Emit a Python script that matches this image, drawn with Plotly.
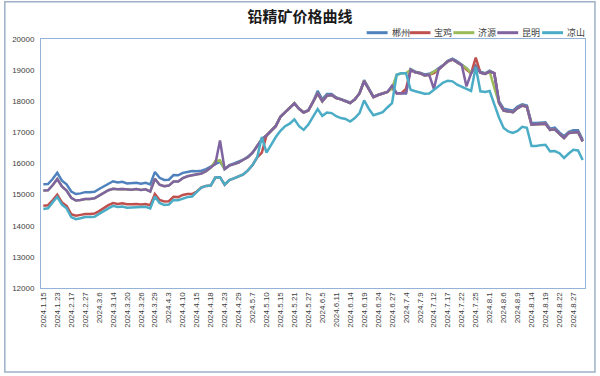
import plotly.graph_objects as go

tick_labels = ["2024.1.15","2024.1.23","2024.2.17","2024.2.27","2024.3.6","2024.3.14","2024.3.20",
               "2024.3.26","2024.3.29","2024.4.3","2024.4.10","2024.4.15","2024.4.18","2024.4.23",
               "2024.4.29","2024.5.7","2024.5.10","2024.5.15","2024.5.21","2024.5.27","2024.6.5",
               "2024.6.11","2024.6.14","2024.6.19","2024.6.24","2024.6.27","2024.7.4","2024.7.9",
               "2024.7.12","2024.7.17","2024.7.22","2024.7.25","2024.8.1","2024.8.6","2024.8.9",
               "2024.8.14","2024.8.19","2024.8.22","2024.8.27"]

y_ticks = [12000, 13000, 14000, 15000, 16000, 17000, 18000, 19000, 20000]

chenzhou = [15330,15340,15500,15700,15450,15330,15100,15020,15040,15080,
            15080,15090,15180,15260,15350,15430,15390,15410,15360,15360,
            15380,15350,15380,15330,15730,15540,15470,15480,15630,15620,
            15700,15730,15760,15750,15770,15820,15900,16000,16060,15820,
            15950,16000,16050,16120,16220,16350,16550,16780,16900,17060,
            17220,17500,17650,17780,17930,17760,17640,17720,17980,18330,
            18060,18230,18230,18120,18060,18010,17960,18060,18260,18680,
            18400,18150,18200,18260,18300,18450,18260,18260,18260,19030,
            18950,18920,18860,18880,18950,19060,19160,19300,19370,19280,
            19180,19060,18900,19150,18950,18900,18980,18900,18000,17760,
            17730,17700,17830,17900,17860,17300,17300,17320,17320,17120,
            17150,17000,16880,17020,17070,17070,16760]

baoji = [14640,14660,14820,15000,14750,14640,14370,14320,14350,14380,
         14380,14390,14470,14580,14660,14730,14700,14720,14690,14690,
         14700,14680,14700,14660,15020,14830,14780,14790,14930,14920,
         14990,15020,15020,15100,15230,15280,15290,15550,15560,15320,
         15470,15520,15580,15650,15780,15950,16200,16350,16900,17050,
         17200,17500,17640,17780,17930,17760,17640,17700,17980,18250,
         18000,18180,18200,18100,18060,18000,17940,18060,18250,18650,
         18400,18130,18200,18260,18300,18420,18260,18260,18400,19010,
         18930,18900,18830,18850,18900,19020,19140,19280,19340,19260,
         19160,19020,18900,19400,18920,18880,18950,18900,17950,17700,
         17680,17650,17780,17860,17820,17250,17260,17280,17280,17080,
         17100,16950,16820,16980,17000,17010,16710]

jiyuan = [15130,15140,15300,15500,15260,15130,14900,14810,14830,14860,
          14860,14880,14970,15060,15140,15190,15170,15180,15160,15160,
          15180,15150,15170,15100,15510,15320,15270,15290,15420,15420,
          15530,15590,15620,15640,15680,15750,15860,16080,16100,15820,
          15930,15980,16030,16120,16200,16350,16550,16780,16900,17050,
          17200,17500,17640,17780,17930,17760,17640,17700,17980,18250,
          18000,18180,18200,18100,18060,18000,17940,18060,18250,18650,
          18400,18130,18200,18260,18300,18420,18850,18900,18900,19010,
          18930,18900,18830,18850,18950,19020,19140,19280,19340,19260,
          19160,19060,18900,19120,18920,18880,18950,18430,17950,17700,
          17680,17650,17780,17860,17820,17250,17260,17280,17280,17080,
          17100,16950,16820,16980,17000,17010,16710]

kunming = [15130,15140,15300,15500,15260,15130,14900,14810,14830,14860,
           14860,14880,14970,15060,15140,15190,15170,15180,15160,15160,
           15180,15150,15170,15100,15510,15320,15270,15290,15420,15420,
           15530,15590,15620,15640,15680,15750,15860,15990,16740,15820,
           15930,15980,16030,16120,16200,16350,16550,16780,16900,17050,
           17200,17500,17640,17780,17930,17760,17640,17700,17980,18250,
           18000,18180,18200,18100,18060,18000,17940,18060,18250,18650,
           18400,18130,18200,18260,18300,18500,18260,18260,18260,19010,
           18930,18900,18830,18850,18400,19020,19140,19280,19340,19260,
           19160,18480,18900,19120,18920,18880,18950,18900,17950,17700,
           17680,17650,17780,17860,17820,17250,17260,17280,17280,17080,
           17100,16950,16820,16980,17000,17010,16710]

liangshan = [14540,14560,14750,14930,14680,14560,14280,14210,14240,14280,
             14280,14290,14380,14480,14560,14640,14600,14620,14580,14590,
             14600,14590,14610,14560,14940,14730,14670,14680,14830,14820,
             14880,14920,14940,15100,15230,15280,15290,15550,15560,15320,
             15470,15520,15580,15650,15780,15950,16200,16850,16350,16600,
             16850,17050,17200,17280,17420,17200,17080,17250,17500,17750,
             17530,17640,17620,17520,17460,17430,17350,17460,17620,18030,
             17760,17550,17600,17650,17800,17940,18850,18900,18900,18370,
             18320,18280,18240,18250,18370,18480,18600,18660,18640,18530,
             18470,18400,18330,19100,18320,18300,18330,17900,17480,17140,
             17030,16980,17050,17180,17150,16560,16560,16590,16600,16390,
             16400,16330,16180,16320,16440,16420,16110]

series_names = ["郴州", "宝鸡", "济源", "昆明", "凉山"]
series_values = [chenzhou, baoji, jiyuan, kunming, liangshan]
colors = ["#4F81BD", "#C0504D", "#9BBB59", "#8064A2", "#4BACC6"]

n = len(chenzhou)
xs = list(range(n))
tick_vals = [3 * k for k in range(len(tick_labels))]

fig = go.Figure()
for name, vals, col in zip(series_names, series_values, colors):
    fig.add_trace(go.Scatter(x=xs, y=vals, mode="lines", name=name,
                             line=dict(color=col, width=2.5), showlegend=False,
                             hoverinfo="skip"))

# plot area in pixels: x 39.3..585, y 39.3..288
L, R, T, B = 39.3, 585.0, 39.3, 288.0
W, H = 600, 376
def px(xp):
    return (xp - L) / (R - L)
def py(yp):
    return (B - yp) / (B - T)

shapes = []
annotations = []
# outer chart border
shapes.append(dict(type="rect", xref="paper", yref="paper",
                   x0=px(3), x1=px(595), y0=py(372), y1=py(2),
                   line=dict(color="#9DB0C6", width=1.5), layer="below"))

# manual legend
leg_y = py(33)
item_x = [366, 409, 453, 497, 542]
for name, col, x0 in zip(series_names, colors, item_x):
    shapes.append(dict(type="line", xref="paper", yref="paper",
                       x0=px(x0), x1=px(x0 + 21), y0=leg_y, y1=leg_y,
                       line=dict(color=col, width=3)))
    annotations.append(dict(xref="paper", yref="paper", x=px(x0 + 23), y=leg_y,
                            text=name, showarrow=False, xanchor="left", yanchor="middle",
                            font=dict(family="Noto Sans CJK SC", size=9, color="#404040")))

fig.update_layout(
    width=W, height=H,
    margin=dict(l=L, r=W - R, t=T, b=H - B, pad=0),
    paper_bgcolor="white", plot_bgcolor="white",
    title=dict(text="<b>铅精矿价格曲线</b>", x=0.5, xanchor="center", y=1 - 17 / H, yanchor="middle",
               font=dict(family="Noto Sans CJK SC", size=15, color="#1a1a1a")),
    shapes=shapes, annotations=annotations,
    xaxis=dict(range=[-0.5, n - 0.5], tickmode="array", tickvals=tick_vals, ticktext=tick_labels,
               tickangle=-90, tickfont=dict(family="Liberation Sans", size=8, color="#404040"),
               showgrid=False, zeroline=False, showline=True, mirror=True,
               linecolor="#95B3D7", linewidth=1, ticks=""),
    yaxis=dict(range=[12000, 20000], tickmode="array", tickvals=y_ticks,
               ticktext=[str(v) for v in y_ticks],
               tickfont=dict(family="Liberation Sans", size=8, color="#404040"),
               showgrid=False, zeroline=False, showline=True, mirror=True,
               linecolor="#95B3D7", linewidth=1, ticks="", ticklabelstandoff=4),
)

fig.write_html("out.html", config={"displayModeBar": False},
               post_script="document.body.style.margin='0px';")
